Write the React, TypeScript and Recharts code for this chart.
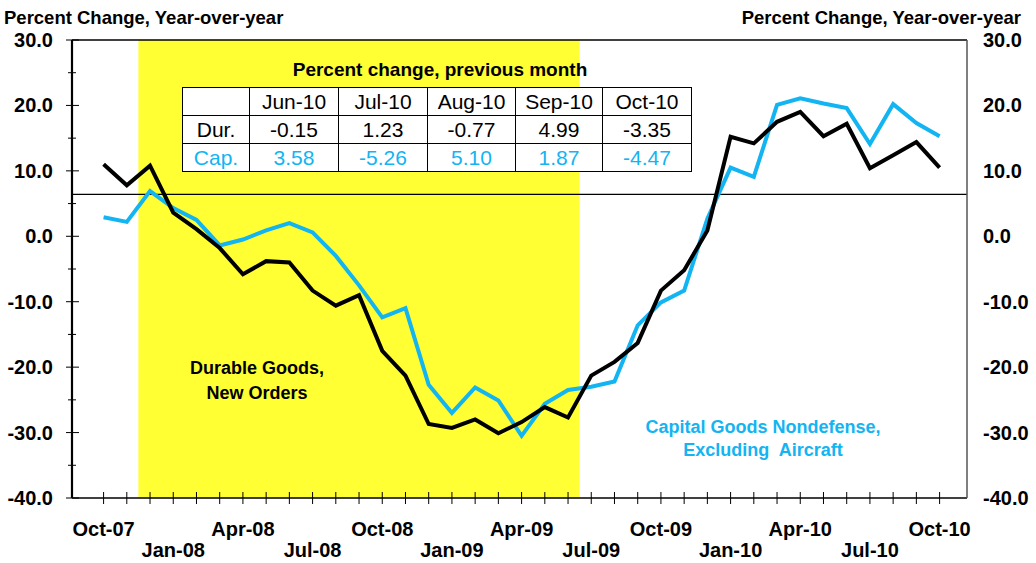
import { LineChart, Line, XAxis, YAxis, ReferenceArea, ReferenceLine } from 'recharts'

const months = [
    'Oct-07', 'Nov-07', 'Dec-07', 'Jan-08', 'Feb-08', 'Mar-08', 'Apr-08', 'May-08', 'Jun-08',
    'Jul-08', 'Aug-08', 'Sep-08', 'Oct-08', 'Nov-08', 'Dec-08', 'Jan-09', 'Feb-09', 'Mar-09',
    'Apr-09', 'May-09', 'Jun-09', 'Jul-09', 'Aug-09', 'Sep-09', 'Oct-09', 'Nov-09', 'Dec-09',
    'Jan-10', 'Feb-10', 'Mar-10', 'Apr-10', 'May-10', 'Jun-10', 'Jul-10', 'Aug-10', 'Sep-10', 'Oct-10',
]

const durableGoods = [
    11.0, 7.8, 10.8, 3.6, 1.1, -1.8, -5.8, -3.8, -4.0,
    -8.3, -10.6, -9.0, -17.5, -21.3, -28.7, -29.3, -28.0, -30.1,
    -28.4, -26.1, -27.7, -21.3, -19.2, -16.3, -8.3, -5.2, 0.9,
    15.2, 14.2, 17.5, 19.0, 15.3, 17.2, 10.4, 12.4, 14.4, 10.5,
]

const capitalGoods = [
    2.9, 2.2, 6.9, 4.3, 2.5, -1.4, -0.5, 0.9, 2.0,
    0.6, -3.0, -7.5, -12.4, -11.0, -22.7, -27.0, -23.1, -25.1,
    -30.5, -25.6, -23.5, -23.0, -22.2, -13.6, -10.1, -8.3, 2.7,
    10.5, 9.1, 20.1, 21.1, 20.3, 19.6, 14.1, 20.2, 17.3, 15.3,
]

const yTicks = [-40, -35, -30, -25, -20, -15, -10, -5, 0, 5, 10, 15, 20, 25, 30]
const yLabels = [-40, -30, -20, -10, 0, 10, 20, 30]

const tableMonths = ['Jun-10', 'Jul-10', 'Aug-10', 'Sep-10', 'Oct-10']
const durChange = ['-0.15', '1.23', '-0.77', '4.99', '-3.35']
const capChange = ['3.58', '-5.26', '5.10', '1.87', '-4.47']

// recession shading, in month index units (Dec-07 .. Jun-09)
const recessionStart = 1.5
const recessionEnd = 20.5
const trendLevel = 6.4

const BLUE = '#12b4f2'
const YELLOW = '#ffff33'
const FONT = 'Arial, "Liberation Sans", sans-serif'

const data = months.map((m, i) => ({ i, month: m, dur: durableGoods[i], cap: capitalGoods[i] }))

const XTick = (props: any) => {
    const { x, y, payload } = props
    const i = payload.value
    const show = i % 3 === 0
    const lower = (i / 3) % 2 === 1
    return (
        <g>
            <line x1={x} x2={x} y1={y - 6} y2={y + 6} stroke="#000" strokeWidth={1} />
            {show && (
                <text
                    x={x}
                    y={y + (lower ? 59 : 38)}
                    textAnchor="middle"
                    fontFamily={FONT}
                    fontWeight="bold"
                    fontSize={20}
                    fill="#000"
                >
                    {months[i]}
                </text>
            )}
        </g>
    )
}

const LeftTick = (props: any) => {
    const { x, y, payload } = props
    const major = payload.value % 10 === 0
    return (
        <g>
            <line x1={major ? x - 6 : x - 4} x2={major ? x + 7 : x + 4} y1={y} y2={y} stroke="#000" strokeWidth={1} />
            {major && (
                <text x={x - 19} y={y + 7} textAnchor="end" fontFamily={FONT} fontWeight="bold" fontSize={20} fill="#000">
                    {payload.value.toFixed(1)}
                </text>
            )}
        </g>
    )
}

const RightTick = (props: any) => {
    const { x, y, payload } = props
    return (
        <text x={x + 16} y={y + 7} textAnchor="start" fontFamily={FONT} fontWeight="bold" fontSize={20} fill="#000">
            {payload.value.toFixed(1)}
        </text>
    )
}

const cell: React.CSSProperties = {
    border: '1.5px solid #000',
    height: 27,
    padding: 0,
    textAlign: 'center',
    verticalAlign: 'middle',
    background: '#fff',
    lineHeight: '26px',
}

const colWidths = [66, 88, 88, 87, 86, 88]

export default function App() {
    return (
        <div style={{ position: 'absolute', left: 0, top: 0, width: 1036, height: 563, background: '#fff', fontFamily: FONT }}>
            <LineChart width={1036} height={563} data={data} margin={{ top: 40, right: 0, bottom: 0, left: 0 }}>
                <XAxis
                    dataKey="i"
                    type="number"
                    domain={[-1.36, 37.18]}
                    ticks={months.map((_, i) => i)}
                    interval={0}
                    height={65}
                    tickSize={0}
                    tickMargin={0}
                    tick={<XTick />}
                    axisLine={{ stroke: '#000', strokeWidth: 1.5 }}
                    allowDataOverflow
                />
                <YAxis
                    yAxisId="left"
                    domain={[-40, 30]}
                    ticks={yTicks}
                    interval={0}
                    width={72}
                    tickSize={0}
                    tickMargin={0}
                    tick={<LeftTick />}
                    axisLine={false}
                    allowDataOverflow
                />
                <YAxis
                    yAxisId="right"
                    orientation="right"
                    domain={[-40, 30]}
                    ticks={yLabels}
                    interval={0}
                    width={69}
                    tickSize={0}
                    tickMargin={0}
                    tick={<RightTick />}
                    axisLine={{ stroke: '#555', strokeWidth: 1.5 }}
                    allowDataOverflow
                />
                <ReferenceArea
                    yAxisId="left"
                    x1={recessionStart}
                    x2={recessionEnd}
                    y1={-40}
                    y2={30}
                    fill={YELLOW}
                    fillOpacity={1}
                    stroke="none"
                />
                <ReferenceLine yAxisId="left" y={30} stroke="#000" strokeWidth={1.5} />
                <ReferenceLine yAxisId="left" y={trendLevel} stroke="#000" strokeWidth={1.2} />
                <ReferenceLine yAxisId="left" x={-1.36} stroke="#000" strokeWidth={2.2} />
                <Line
                    yAxisId="right"
                    dataKey="dur"
                    stroke="none"
                    dot={false}
                    activeDot={false}
                    isAnimationActive={false}
                />
                <Line
                    yAxisId="left"
                    dataKey="cap"
                    stroke={BLUE}
                    strokeWidth={4}
                    dot={false}
                    isAnimationActive={false}
                    strokeLinejoin="miter"
                />
                <Line
                    yAxisId="left"
                    dataKey="dur"
                    stroke="#000"
                    strokeWidth={4}
                    dot={false}
                    isAnimationActive={false}
                    strokeLinejoin="miter"
                />
            </LineChart>

            <div style={{ position: 'absolute', left: 4, top: 8, fontSize: 18.5, lineHeight: '20px', fontWeight: 'bold' }}>
                Percent Change, Year-over-year
            </div>
            <div style={{ position: 'absolute', right: 15, top: 8, fontSize: 18.5, lineHeight: '20px', fontWeight: 'bold' }}>
                Percent Change, Year-over-year
            </div>

            <div style={{ position: 'absolute', left: 240, top: 59, width: 400, textAlign: 'center', fontSize: 19, lineHeight: '22px', fontWeight: 'bold' }}>
                Percent change, previous month
            </div>
            <table
                style={{
                    position: 'absolute',
                    left: 182,
                    top: 87,
                    borderCollapse: 'collapse',
                    fontSize: 21,
                    fontFamily: FONT,
                    tableLayout: 'fixed',
                }}
            >
                <tbody>
                    <tr>
                        <td style={{ ...cell, width: colWidths[0] }}></td>
                        {tableMonths.map((m, k) => (
                            <td key={m} style={{ ...cell, width: colWidths[k + 1] }}>{m}</td>
                        ))}
                    </tr>
                    <tr>
                        <td style={cell}>Dur.</td>
                        {durChange.map((v, k) => (
                            <td key={k} style={cell}>{v}</td>
                        ))}
                    </tr>
                    <tr>
                        <td style={{ ...cell, color: BLUE }}>Cap.</td>
                        {capChange.map((v, k) => (
                            <td key={k} style={{ ...cell, color: BLUE }}>{v}</td>
                        ))}
                    </tr>
                </tbody>
            </table>

            <div style={{ position: 'absolute', left: 107, top: 356, width: 300, textAlign: 'center', fontSize: 18, fontWeight: 'bold', lineHeight: '25px', whiteSpace: 'pre' }}>
                {'Durable Goods,\nNew Orders'}
            </div>
            <div style={{ position: 'absolute', left: 613, top: 416, width: 300, textAlign: 'center', fontSize: 18, fontWeight: 'bold', lineHeight: '23px', color: BLUE, whiteSpace: 'pre' }}>
                {'Capital Goods Nondefense,\nExcluding  Aircraft'}
            </div>
        </div>
    )
}
